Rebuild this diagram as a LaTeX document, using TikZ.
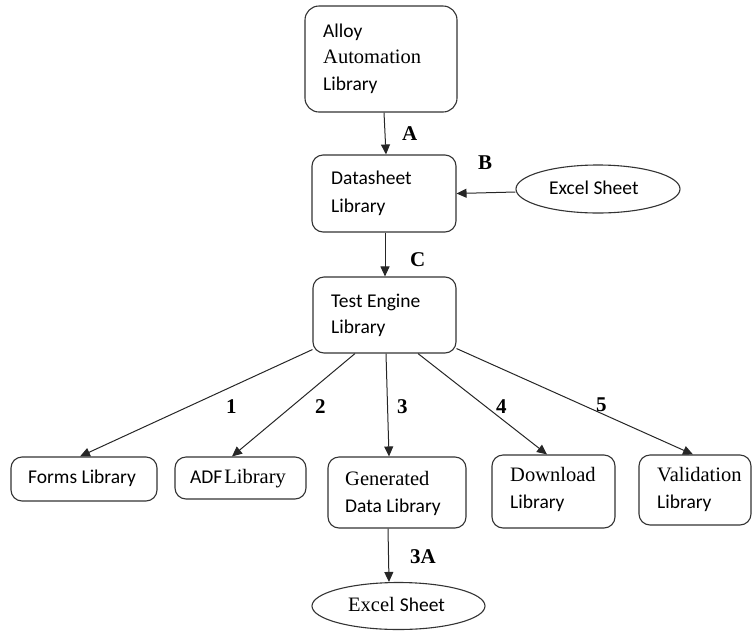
\documentclass[tikz,border=0pt]{standalone}
\usepackage{fontspec}
\setmainfont{Liberation Serif}
\newfontfamily\calfont{Carlito}
\usetikzlibrary{arrows.meta,shapes.geometric}

\begin{document}
\begin{tikzpicture}[x=1pt,y=-1pt,
  box/.style={draw=black!80,line width=1.1pt,rounded corners=11pt,rectangle,inner sep=0pt,fill=white},
  oval/.style={draw=black!80,line width=1.1pt,ellipse,inner sep=0pt},
  arr/.style={draw=black!85,line width=1pt,-{Triangle[length=10pt,width=9pt]}},
  cf/.style={font=\calfont\fontsize{19.5}{22}\selectfont,anchor=base west,inner sep=0pt,text=black},
  tf/.style={font=\fontsize{20.5}{23}\selectfont,anchor=base west,inner sep=0pt,text=black},
  lab/.style={font=\bfseries\fontsize{21}{24}\selectfont,anchor=base west,inner sep=0pt}]
  \useasboundingbox (0,0) rectangle (753,630);

  % boxes
  \node[box,minimum width=152pt,minimum height=106pt,rounded corners=14pt] (alloy) at (381,59) {};
  \node[box,minimum width=144pt,minimum height=77pt] (data) at (384,193.5) {};
  \node[box,minimum width=143pt,minimum height=76pt] (test) at (384.5,315) {};
  \node[box,minimum width=146pt,minimum height=44pt] (forms) at (84,479) {};
  \node[box,minimum width=131pt,minimum height=42pt] (adf) at (240.5,478) {};
  \node[box,minimum width=138pt,minimum height=71pt] (gen) at (397,492.5) {};
  \node[box,minimum width=123pt,minimum height=73pt] (down) at (553.5,491.5) {};
  \node[box,minimum width=112pt,minimum height=70pt] (val) at (695,490) {};
  \node[oval,minimum width=164pt,minimum height=48pt] (excelA) at (598,189) {};
  \node[oval,minimum width=173pt,minimum height=47pt] (excelB) at (398.5,606) {};

  % box texts
  \node[cf] (alloy1) at (323,37) {Alloy};
  \node[tf] (alloy2) at (323,63) {Automation};
  \node[cf] (alloy3) at (323,90) {Library};
  \node[cf] (data1) at (331,184) {Datasheet};
  \node[cf] (data2) at (331,212) {Library};
  \node[cf] (test1) at (331,307) {Test Engine};
  \node[cf] (test2) at (331,333) {Library};
  \node[cf] (forms1) at (28,483) {Forms Library};
  \node[cf] (adf1) at (190,483) {ADF\kern2pt{\fontspec{Liberation Serif}\fontsize{20.5}{23}\selectfont Library}};
  \node[tf] (gen1) at (345,485) {Generated};
  \node[cf] (gen2) at (345,512) {Data Library};
  \node[tf] (down1) at (510,481) {Download};
  \node[cf] (down2) at (510,508) {Library};
  \node[tf] (val1) at (657,481) {Validation};
  \node[cf] (val2) at (657,508) {Library};
  \node[cf] (excelA1) at (549,194) {Excel Sheet};
  \node[tf] (excelB1) at (348,611) {Excel\kern5pt{\calfont\fontsize{19.5}{22}\selectfont Sheet}};

  % connectors
  \draw[arr] ([xshift=3pt]alloy.south) -- ([xshift=2pt]data.north);
  \draw[arr] ([yshift=-3pt]excelA.west) -- (data.east);
  \draw[arr] ([xshift=1pt]data.south) -- ([xshift=0.5pt]test.north);
  \draw[arr] ([yshift=4pt]test.south west) -- ([xshift=-4pt]forms.north);
  \draw[arr] ([xshift=-29.5pt]test.south) -- ([xshift=-8.5pt]adf.north);
  \draw[arr] ([xshift=1.5pt]test.south) -- ([xshift=-8pt]gen.north);
  \draw[arr] ([xshift=33.5pt]test.south) -- ([xshift=-6.5pt]down.north);
  \draw[arr] ([yshift=5pt]test.south east) -- ([xshift=-2pt]val.north);
  \draw[arr] ([xshift=-9pt]gen.south) -- ([xshift=-9.5pt]excelB.north);

  % connector labels
  \node[lab] (lA) at (402,140) {A};
  \node[lab] (lB) at (478,169) {B};
  \node[lab] (lC) at (410,266) {C};
  \node[lab] (l1) at (226,413) {1};
  \node[lab] (l2) at (315,413) {2};
  \node[lab] (l3) at (397,413) {3};
  \node[lab] (l4) at (496,413) {4};
  \node[lab] (l5) at (596,411) {5};
  \node[lab] (l3A) at (410,563) {3A};
\end{tikzpicture}
\end{document}
